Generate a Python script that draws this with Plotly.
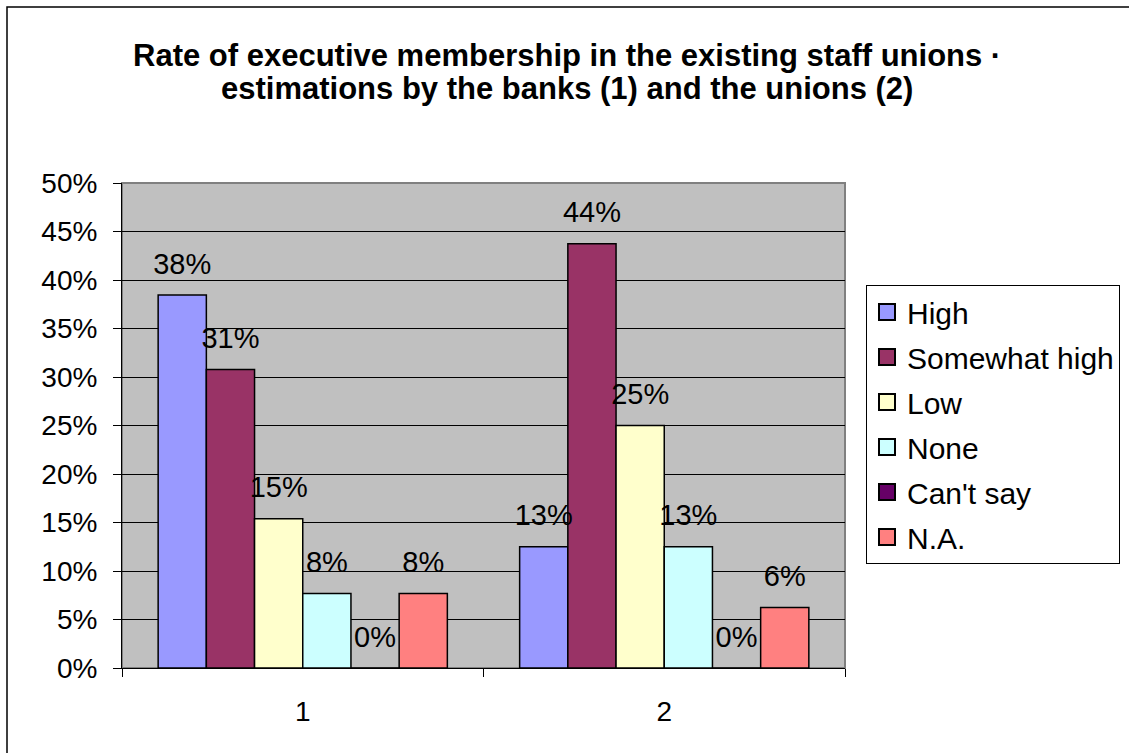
import plotly.graph_objects as go

# Survey groups on the category axis
groups = ["1", "2"]

# Share of answers per rating, for the banks (1) and the unions (2)
high = [0.3846, 0.125]
somewhat_high = [0.3077, 0.4375]
low = [0.1538, 0.25]
none_ = [0.0769, 0.125]
cant_say = [0.0, 0.0]
not_available = [0.0769, 0.0625]

series_names = ["High", "Somewhat high", "Low", "None", "Can't say", "N.A."]
series_values = [high, somewhat_high, low, none_, cant_say, not_available]
series_colors = ["#9999FF", "#993366", "#FFFFCC", "#CCFFFF", "#660066", "#FF8080"]

y_ticks = [0, 0.05, 0.10, 0.15, 0.20, 0.25, 0.30, 0.35, 0.40, 0.45, 0.50]

title_lines = [
    "Rate of executive membership in the existing staff unions ·",
    "estimations by the banks (1) and the unions (2)",
]

FONT = "Liberation Sans, Arial, sans-serif"

fig = go.Figure()

for name, vals, color in zip(series_names, series_values, series_colors):
    fig.add_trace(go.Bar(
        x=groups, y=vals, name=name, offsetgroup=name, legendgroup=name,
        marker=dict(color=color, line=dict(color="black", width=1.5)),
        showlegend=False, hoverinfo="skip",
    ))

# Value labels, placed over each bar through the same grouping
for name, vals in zip(series_names, series_values):
    fig.add_trace(go.Scatter(
        x=groups, y=vals, offsetgroup=name, legendgroup=name, mode="markers+text",
        marker=dict(size=21, opacity=0),
        texttemplate="%{y:.0%}", textposition="top center",
        textfont=dict(family=FONT, size=29, color="black"),
        showlegend=False, hoverinfo="skip", cliponaxis=False,
    ))

# Legend keys: filled squares with a black outline
for name, color in zip(series_names, series_colors):
    fig.add_trace(go.Scatter(
        x=[None], y=[None], name=name, offsetgroup=name, legendgroup=name,
        mode="markers",
        marker=dict(symbol="square", size=16, color=color,
                    line=dict(color="black", width=2)),
        showlegend=True, hoverinfo="skip",
    ))

L, R, T, B = 122, 284, 183, 85
W, H = 1129, 753
pw, ph = W - L - R, H - T - B


def paper_y(px_from_top):
    return (H - B - px_from_top) / ph


def paper_x(px_from_left):
    return (px_from_left - L) / pw


annotations = [
    dict(text=line, xref="paper", yref="paper",
         x=paper_x(W / 2 + 2), y=paper_y(ypx), xanchor="center", yanchor="middle",
         showarrow=False,
         font=dict(family=FONT, size=31, color="black", weight="bold"))
    for line, ypx in zip(title_lines, [55, 88])
]

fig.update_layout(
    width=W, height=H,
    margin=dict(l=L, r=R, t=T, b=B, autoexpand=False),
    paper_bgcolor="white",
    plot_bgcolor="#C0C0C0",
    barmode="group", bargap=0.2, bargroupgap=0,
    scattermode="group", scattergap=0.2,
    font=dict(family=FONT, color="black"),
    annotations=annotations,
    showlegend=True,
    legend=dict(
        x=paper_x(866), xanchor="left",
        y=paper_y(285), yanchor="top",
        bgcolor="white", bordercolor="black", borderwidth=1,
        font=dict(family=FONT, size=30, color="black"),
        traceorder="grouped", tracegroupgap=3,
        itemsizing="trace",
    ),
    xaxis=dict(
        type="category", tickson="boundaries",
        ticks="outside", ticklen=8, tickcolor="black",
        showline=True, linecolor="black", linewidth=1,
        showgrid=False, zeroline=False,
        tickfont=dict(family=FONT, size=28, color="black"),
        ticklabelstandoff=18,
    ),
    yaxis=dict(
        range=[0, 0.5], tickvals=y_ticks, tickformat=".0%",
        ticks="outside", ticklen=8, tickcolor="black",
        showline=True, linecolor="black", linewidth=1,
        showgrid=True, gridcolor="black", gridwidth=1,
        zeroline=False,
        tickfont=dict(family=FONT, size=28, color="black"),
        ticklabelstandoff=10,
    ),
    shapes=[
        # plot area frame
        dict(type="rect", xref="paper", yref="paper", x0=0, x1=1, y0=0, y1=1,
             line=dict(color="#808080", width=2), layer="below"),
        # outer chart frame
        dict(type="rect", xref="paper", yref="paper",
             x0=paper_x(7), x1=paper_x(W + 20),
             y0=paper_y(H + 20), y1=paper_y(7),
             line=dict(color="black", width=1.5), layer="below"),
    ],
)

fig.write_html("out.html")
